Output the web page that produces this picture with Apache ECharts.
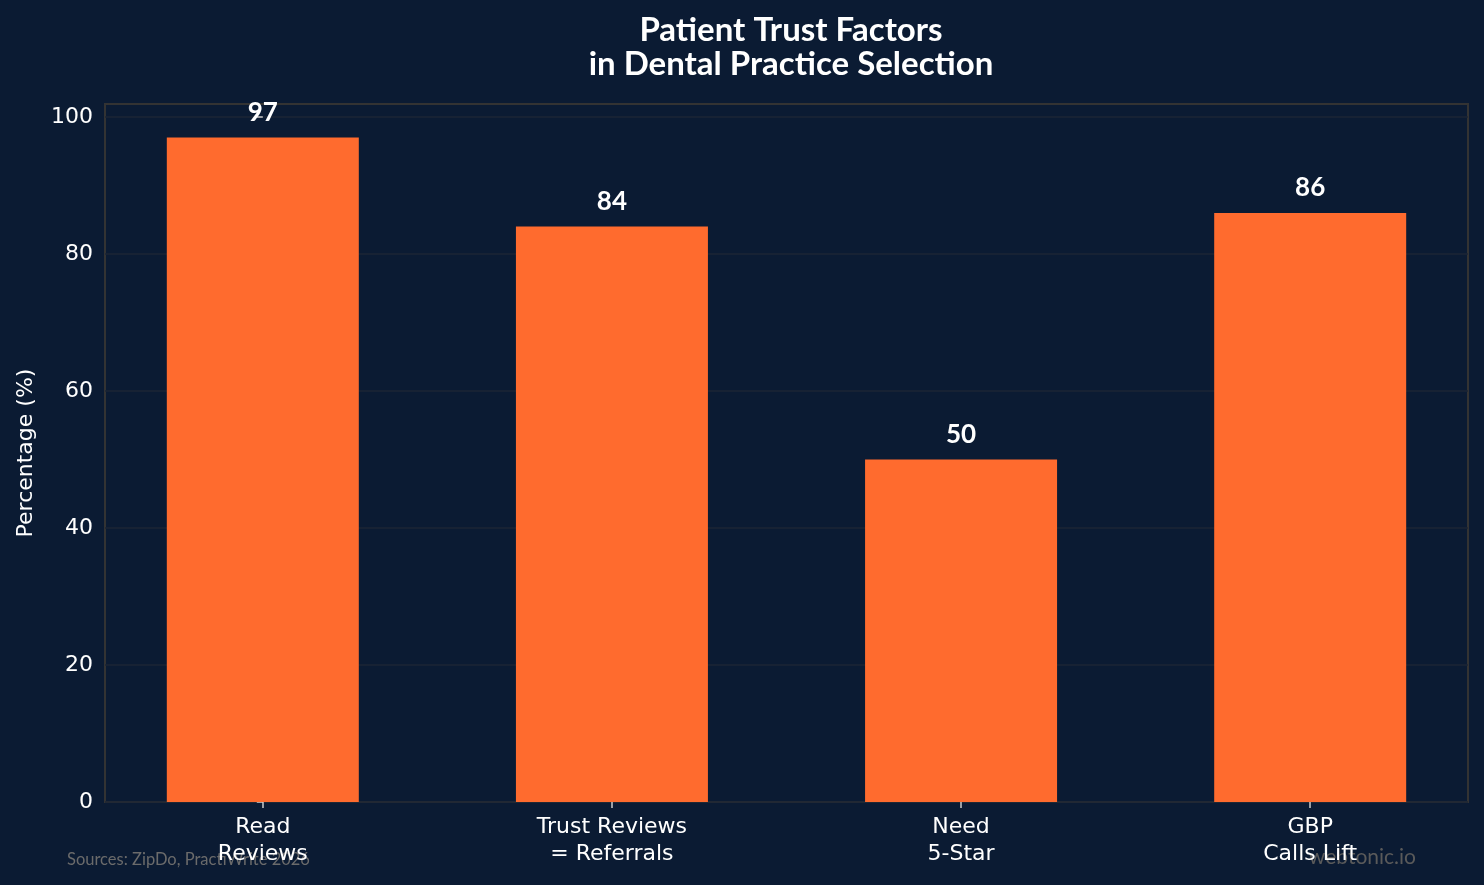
<!DOCTYPE html>
<html>
<head>
<meta charset="utf-8">
<script src="https://cdn.jsdelivr.net/npm/echarts@6/dist/echarts.min.js"></script>
<style>
html,body{margin:0;padding:0;background:#0b1b33;}
#c{width:1484px;height:885px;}
</style>
</head>
<body>
<div id="c"></div>
<script>
const categories = ['Read\nReviews', 'Trust Reviews\n= Referrals', 'Need\n5-Star', 'GBP\nCalls Lift'];
const values = [97, 84, 50, 86];
const yTicks = [0, 20, 40, 60, 80, 100];

const chart = echarts.init(document.getElementById('c'), null, {renderer: 'canvas'});
const positions = categories.map((_, i) => i);

chart.setOption({
  backgroundColor: '#0b1b33',
  animation: false,
  title: {
    text: 'Patient Trust Factors\nin Dental Practice Selection',
    left: 786, top: 8, textAlign: 'center',
    textStyle: {color: '#ffffff', fontFamily: 'Lato', fontWeight: 'bold', fontSize: 33, lineHeight: 34}
  },
  grid: {
    left: 105, top: 104, width: 1363, height: 698,
    show: true, borderColor: '#333333', borderWidth: 2, backgroundColor: 'transparent'
  },
  xAxis: {
    type: 'value', min: -0.452, max: 3.452,
    axisLine: {show: false},
    splitLine: {show: false},
    axisTick: {show: true, customValues: positions, length: 6, lineStyle: {color: '#cccccc', width: 1.5}},
    axisLabel: {
      customValues: positions, color: '#ffffff', fontFamily: 'DejaVu Sans', fontSize: 22,
      lineHeight: 27, margin: 12,
      formatter: v => categories[Math.round(v)]
    }
  },
  yAxis: {
    type: 'value', min: 0, max: 101.9, interval: 20,
    name: 'Percentage (%)', nameLocation: 'middle', nameGap: 68, nameRotate: 90,
    nameTextStyle: {color: '#ffffff', fontFamily: 'DejaVu Sans', fontSize: 22},
    axisLine: {show: false},
    axisTick: {show: true, customValues: yTicks, length: 6, lineStyle: {color: '#cccccc', width: 1.5}},
    axisLabel: {customValues: yTicks, color: '#ffffff', fontFamily: 'DejaVu Sans', fontSize: 22, margin: 12},
    splitLine: {show: true, lineStyle: {color: '#1c2636', width: 1.5}}
  },
  series: [
    {
      type: 'bar',
      data: values.map((v, i) => [positions[i], v]),
      barWidth: 192,
      itemStyle: {color: '#ff6b2e'},
      label: {
        show: true, position: 'top', distance: 12,
        color: '#ffffff', fontFamily: 'Lato', fontWeight: 'bold', fontSize: 26
      },
      z: 3
    }
  ],
  graphic: [
    {type: 'text', left: 67, top: 851, style: {text: 'Sources: ZipDo, PractiWrite 2026', fill: '#6b6b6b', font: '16.5px Lato'}, z: 0},
    {type: 'text', right: 68, top: 847, style: {text: 'webtonic.io', fill: '#5a5a5a', font: '21px Lato'}, z: 0}
  ]
});
</script>
</body>
</html>
